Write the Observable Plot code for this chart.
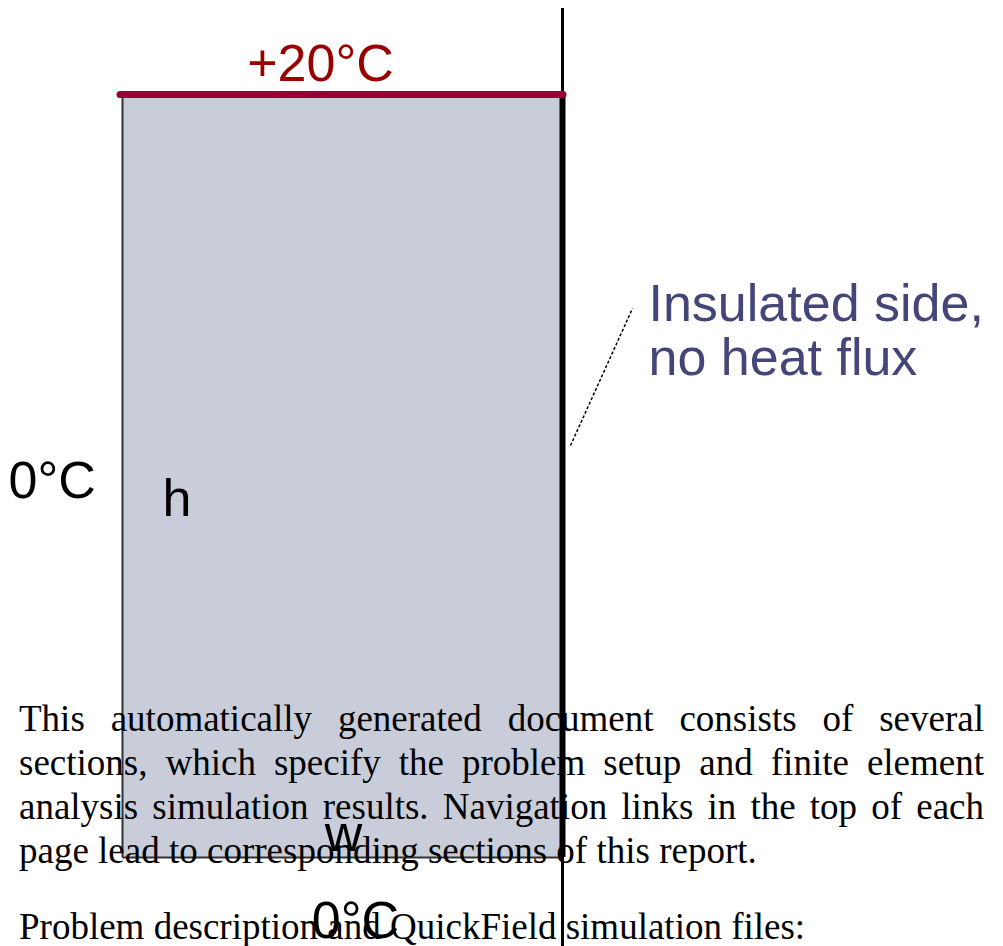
<!DOCTYPE html>
<html>
<head>
<meta charset="utf-8">
<script src="https://cdn.jsdelivr.net/npm/d3@7"></script>
<script src="https://cdn.jsdelivr.net/npm/@observablehq/plot@0.6"></script>
<style>
  html, body { margin: 0; padding: 0; background: #fff; }
  #wrap { position: relative; width: 1003px; height: 946px; overflow: hidden; }
  #chart { position: absolute; left: 0; top: 0; }
  #doc { position: absolute; left: 19px; top: 697px; width: 965px;
         font-family: "Liberation Serif", "Times New Roman", serif; font-size: 37px;
         line-height: 44px; color: #000; }
  #doc p { margin: 0; text-align: justify; }
  #doc p + p { margin-top: 32px; }
</style>
</head>
<body>
<div id="wrap">
  <div id="chart"></div>
  <div id="doc">
    <p>This automatically generated document consists of several sections, which specify the problem setup and finite element analysis simulation results. Navigation links in the top of each page lead to corresponding sections of this report.</p>
    <p>Problem description and QuickField simulation files:</p>
  </div>
</div>
<script>
// Diagram geometry (in diagram units)
const plate = [{x1: 122, x2: 563, y1: 94, y2: 857}];
const heatedEdge = [{x1: 120, x2: 563, y: 94}];
const insulatedEdge = [{x: 562, y1: 94, y2: 857}];
const symmetryAxis = [{x: 562, y1: 8, y2: 946}];
const plateBorders = [
  {x1: 122, y1: 94, x2: 122, y2: 857},
  {x1: 122, y1: 857, x2: 562, y2: 857}
];
const leader = [{x1: 570, y1: 445, x2: 632, y2: 308}];
const redLabels = [{x: 320, y: 70, text: "+20°C"}];
const blueLabels = [
  {x: 648, y: 310, text: "Insulated side,"},
  {x: 648, y: 364, text: "no heat flux"}
];
const startLabels = [
  {x: 8, y: 487, text: "0°C"},
  {x: 162, y: 505, text: "h"}
];
const centerLabels = [
  {x: 343, y: 840, text: "w"},
  {x: 355, y: 927, text: "0°C"}
];

const font = "Liberation Sans, Arial, sans-serif";
const chart = Plot.plot({
  width: 1003,
  height: 946,
  margin: 0,
  x: {domain: [0, 1003], range: [0, 1003], axis: null},
  y: {domain: [0, 946], range: [0, 946], axis: null},
  style: {background: "transparent"},
  marks: [
    Plot.rect(plate, {x1: "x1", x2: "x2", y1: "y1", y2: "y2", fill: "#c8cdd9"}),
    Plot.link(plateBorders, {x1: "x1", y1: "y1", x2: "x2", y2: "y2", stroke: "#333", strokeWidth: 2}),
    Plot.ruleX(symmetryAxis, {x: "x", y1: "y1", y2: "y2", stroke: "#000", strokeWidth: 3}),
    Plot.ruleX(insulatedEdge, {x: "x", y1: "y1", y2: "y2", stroke: "#000", strokeWidth: 6}),
    Plot.ruleY(heatedEdge, {y: "y", x1: "x1", x2: "x2", stroke: "#990033", strokeWidth: 7, strokeLinecap: "round"}),
    Plot.link(leader, {x1: "x1", y1: "y1", x2: "x2", y2: "y2", stroke: "#000", strokeWidth: 1.5, strokeDasharray: "3,2"}),
    Plot.text(redLabels, {x: "x", y: "y", text: "text", fill: "#990000", fontSize: 52, fontFamily: font, textAnchor: "middle", lineAnchor: "bottom", dy: 10}),
    Plot.text(blueLabels, {x: "x", y: "y", text: "text", fill: "#45457a", fontSize: 52, fontFamily: font, textAnchor: "start", lineAnchor: "bottom", dy: 10}),
    Plot.text(startLabels, {x: "x", y: "y", text: "text", fill: "#000", fontSize: 52, fontFamily: font, textAnchor: "start", lineAnchor: "bottom", dy: 10}),
    Plot.text(centerLabels, {x: "x", y: "y", text: "text", fill: "#000", fontSize: 52, fontFamily: font, textAnchor: "middle", lineAnchor: "bottom", dy: 10})
  ]
});
document.getElementById("chart").appendChild(chart);
</script>
</body>
</html>
